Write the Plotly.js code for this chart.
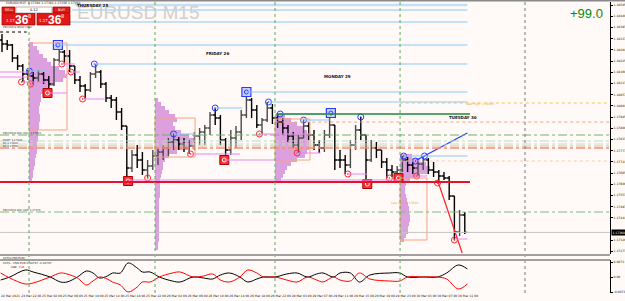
<!DOCTYPE html>
<html><head><meta charset="utf-8">
<script src="https://cdn.plot.ly/plotly-3.0.1.min.js"></script>
<style>html,body{margin:0;padding:0;background:#FFFAF8;}#chart{width:625px;height:301px;}</style>
</head><body><div id="chart"></div>
<script>
// ---------------- DATA ----------------
const symbolName = "EURUSD";
const timeframe = "M15";
const profitText = "+99.0";
const bidPrice = 1.17368;
const firstOpen = 1.18330;
const barStep = 4; // bars are sampled every 4 M15 bars
const high = [1.18360,1.18330,1.18310,1.18255,1.18210,1.18180,1.18170,1.18180,1.18170,1.18150,
1.18240,1.18305,1.18280,1.18280,1.18200,1.18150,1.18110,1.18170,1.18210,1.18180,
1.18120,1.18055,1.18045,1.17990,1.17900,1.17780,1.17805,1.17770,1.17730,1.17780,
1.17790,1.17805,1.17840,1.17860,1.17845,1.17840,1.17830,1.17870,1.17890,1.17905,
1.17970,1.17990,1.17955,1.17840,1.17880,1.17900,1.17980,1.18070,1.18040,1.18005,
1.17940,1.18020,1.18010,1.17960,1.17940,1.17905,1.17870,1.17855,1.17930,1.17920,
1.17880,1.17830,1.17880,1.17965,1.17905,1.17780,1.17755,1.17830,1.17905,1.17945,
1.17855,1.17830,1.17820,1.17780,1.17740,1.17705,1.17700,1.17750,1.17745,1.17730,
1.17725,1.17750,1.17740,1.17720,1.17680,1.17670,1.17650,1.17550,1.17480,1.17470];
const low = [1.18270,1.18280,1.18220,1.18180,1.18120,1.18130,1.18110,1.18120,1.18110,1.18065,
1.18100,1.18220,1.18210,1.18170,1.18110,1.18070,1.18035,1.18070,1.18140,1.18090,
1.18020,1.17990,1.17930,1.17880,1.17625,1.17670,1.17690,1.17655,1.17640,1.17680,
1.17705,1.17730,1.17750,1.17780,1.17780,1.17770,1.17760,1.17780,1.17805,1.17805,
1.17855,1.17905,1.17805,1.17730,1.17755,1.17790,1.17830,1.17940,1.17940,1.17890,
1.17860,1.17920,1.17910,1.17890,1.17855,1.17820,1.17790,1.17765,1.17840,1.17830,
1.17780,1.17765,1.17770,1.17840,1.17680,1.17690,1.17660,1.17690,1.17780,1.17830,
1.17610,1.17720,1.17740,1.17690,1.17640,1.17645,1.17640,1.17670,1.17670,1.17660,
1.17650,1.17680,1.17660,1.17645,1.17615,1.17630,1.17530,1.17330,1.17350,1.17360];
const close = [1.18310,1.18305,1.18240,1.18200,1.18160,1.18150,1.18140,1.18160,1.18130,1.18110,
1.18230,1.18270,1.18250,1.18200,1.18130,1.18100,1.18080,1.18160,1.18170,1.18110,
1.18040,1.18030,1.17970,1.17900,1.17690,1.17755,1.17730,1.17680,1.17700,1.17750,
1.17770,1.17790,1.17820,1.17830,1.17810,1.17790,1.17800,1.17850,1.17870,1.17890,
1.17955,1.17940,1.17830,1.17780,1.17840,1.17870,1.17955,1.18030,1.17980,1.17905,
1.17930,1.17990,1.17940,1.17920,1.17890,1.17850,1.17805,1.17840,1.17900,1.17855,
1.17805,1.17790,1.17855,1.17905,1.17730,1.17730,1.17705,1.17805,1.17880,1.17855,
1.17730,1.17790,1.17780,1.17720,1.17680,1.17670,1.17680,1.17730,1.17705,1.17690,
1.17710,1.17730,1.17680,1.17670,1.17650,1.17640,1.17550,1.17370,1.17455,1.17368];

const timeLabelIdx = [0,16,32,48,64,80,96,112,128,144,160,176,192,208,224,240,256,272,288,304,320,336,352];
const timeLabels = ["24 Mar 2021","24 Mar 22:00","25 Mar 02:00","25 Mar 06:00","25 Mar 10:00","25 Mar 14:00","25 Mar 18:00","25 Mar 22:00","26 Mar 02:00","26 Mar 06:00","26 Mar 10:00","26 Mar 14:00","26 Mar 18:00","26 Mar 22:00","29 Mar 03:00","29 Mar 07:00","29 Mar 11:00","29 Mar 15:00","29 Mar 19:00","29 Mar 23:00","30 Mar 03:00","30 Mar 07:00","30 Mar 11:00"];
const priceTicks = [1.18505,1.18449,1.18393,1.18337,1.18281,1.18225,1.18169,1.18113,1.18057,1.18001,1.17945,1.17889,1.17833,1.17777,1.17721,1.17665,1.17609,1.17553,1.17497,1.17441,1.17329,1.17273];
const ccfTicks = [0.006, 0, -0.006];
const ccfTickText = ["0.0073", "0.00", "-0.0073"];

const dayStartIdx = [20.8, 117.7, 210, 306.2];
const dayNames = ["THURSDAY 25", "FRIDAY 26", "MONDAY 29", "TUESDAY 30"];
const shiftIdx = 402.3;

// volume profiles
const prof1Price = [1.18310,1.18290,1.18270,1.18250,1.18230,1.18210,1.18190,1.18170,1.18150,1.18130,1.18110,1.18090,1.18070,1.18050,1.18030,1.18010,1.17990,1.17970,1.17950,1.17930,1.17910,1.17890,1.17870,1.17850,1.17830,1.17810,1.17790,1.17770,1.17750,1.17730,1.17710,1.17690,1.17670,1.17650,1.17630];
const prof1Vol = [4,8,10,14,18,22,30,36,38,34,26,20,14,12,12,11,10,10,11,11,10,10,9,9,9,8,8,8,7,6,6,5,4,4,3];
const prof2Price = [1.18030,1.18010,1.17990,1.17970,1.17950,1.17930,1.17910,1.17890,1.17870,1.17850,1.17830,1.17810,1.17790,1.17770,1.17750,1.17730,1.17710,1.17690,1.17670,1.17650,1.17630,1.17610,1.17590,1.17570,1.17550,1.17530,1.17510,1.17490,1.17470,1.17450,1.17430,1.17410,1.17390,1.17370,1.17350,1.17330,1.17310,1.17290];
const prof2Vol = [3,6,10,14,20,22,18,20,26,34,40,38,34,22,14,10,8,8,7,6,5,5,5,5,5,4,4,4,4,4,4,4,4,4,4,4,3,3];
const prof3Price = [1.17950,1.17930,1.17910,1.17890,1.17870,1.17850,1.17830,1.17810,1.17790,1.17770,1.17750,1.17730,1.17710,1.17690,1.17670,1.17650,1.17630];
const prof3Vol = [10,16,22,28,32,34,34,34,34,32,30,22,16,12,10,8,6];
const prof4Price = [1.17750,1.17730,1.17710,1.17690,1.17670,1.17650,1.17630,1.17610,1.17590,1.17570,1.17550,1.17530,1.17510,1.17490,1.17470,1.17450,1.17430,1.17410,1.17390,1.17370,1.17350,1.17330];
const prof4Vol = [12,20,26,30,28,20,10,6,5,5,6,7,8,9,9,10,10,9,8,8,6,4];

// value-area boxes
const vaFrom = [20.8, 117.7, 210, 306.2];
const vaTo = [50, 148.5, 236.9, 326.9];
const vaHigh = [1.18315, 1.17940, 1.17935, 1.17640];
const vaLow = [1.17880, 1.17745, 1.17730, 1.17330];

// swing-high levels (blue)
const resistPrice = [1.18505,1.18480,1.18420,1.18305,1.18210,1.18175,1.17860,1.17990,1.18070,1.18020,1.17960,1.17930,1.17750];
const resistFrom = [56,54,49,43,71,21,132,164,188,205,214,232,309];
const resistTo = [358,358,358,358,358,33,149,185,358,358,253,252,358];
// swing-low levels (violet)
const supportPrice = [1.18170,1.18145,1.18120,1.18065,1.18210,1.18170,1.18035,1.17760,1.17730,1.17860,1.17765,1.17630,1.17660,1.17650,1.17335];
const supportFrom = [-1.5,-1.5,15,35,46,53,62,145,171,198,227,97,266,319,348];
const supportTo = [20,22,35,50,56,60,79,183,210,237,245,306,281,327,358];
// key levels
const keyPrice = [1.18015,1.17920,1.17855,1.17825,1.17810,1.17800,1.17790,1.17725,1.17470];
const keyFrom = [306,211,-1.5,-1.5,-1.5,-1.5,-1.5,306,-1.5];
const keyTo = [467.7,467.7,467.7,467.7,467.7,467.7,467.7,467.7,467.7];
const dayLowLevel = 1.17620;
const greenLevel = 1.17960, greenFrom = 211;
const weekHigh = 1.18370;
const lastHighText = "Last High: 1.18015";
const lastLowText = "Last Low: 1.17640";

// pivots
const blueCircleIdx = [21,71,132,164,205,214,232,276,309,318,325];
const blueCirclePrice = [1.18175,1.18210,1.17860,1.17990,1.18020,1.17960,1.17930,1.17945,1.17750,1.17725,1.17750];
const blueBoxIdx = [43,188,253];
const blueBoxPrice = [1.18305,1.18070,1.17965];
const redCircleIdx = [15,22,46,53,62,112,145,198,227,266,298,319,335,348];
const redCirclePrice = [1.18120,1.18110,1.18210,1.18170,1.18035,1.17640,1.17760,1.17860,1.17765,1.17660,1.17640,1.17650,1.17615,1.17330];
const redBoxIdx = [35,97,171,281,305];
const redBoxPrice = [1.18065,1.17625,1.17730,1.17610,1.17640];

// trend lines
const blueTrendIdx = [319, 358];
const blueTrendPrice = [1.17730, 1.17865];
const redTrendIdx = [335, 354];
const redTrendPrice = [1.17630, 1.17265];

// CCFp indicator
const ccfIdx = [-1,6,18,24,37,45,50,58,65,70,75,81,85,91,97,104,108,114,121,131,137,147,155,162,168,175,183,189,196,201,210,219,227,235,242,247,255,260,268,275,283,298,306,312,324,335,342,351,358];
const usdVal = [-0.0012,0,0.0028,0.002,0,-0.002,-0.002,0,0.0024,0.0016,-0.0004,0.0004,0.0016,0.0016,0.0056,0.0036,0.002,0.002,0,-0.0016,-0.002,0,-0.0004,-0.0008,0.0008,0.0016,0,-0.002,-0.0008,0,0,0.0012,0.0016,0,0.0012,0.0016,0,0.0016,0.0016,-0.002,0.0008,0.0016,0.0016,0,0,0,0.0016,0.0048,0.0032];
const eurVal = [0.0016,-0.0004,-0.0028,-0.0024,0,0.0016,0.0012,-0.0004,-0.0032,-0.0016,0,-0.0008,-0.002,-0.0032,-0.006,-0.004,-0.002,-0.002,0,0.0016,0.002,0,0.0004,0.0012,-0.0012,-0.002,0,0.0028,0.0016,0,0,-0.0012,-0.002,0,-0.0012,-0.002,0,-0.0012,-0.0016,0.0016,-0.0008,-0.0016,-0.0016,0,0,0,-0.0008,-0.0048,-0.0028];

// ---------------- BUILD ----------------
const BG = '#FFFAF8';
const TINY = 'DejaVu Sans';
const W = 610, TOPY = 2, BOTY = 293;
const PX = x => x / W;
const PY = y => (BOTY - y) / (BOTY - TOPY);
const barIdx = close.map((_, i) => i * barStep);
const open = close.map((_, i) => i === 0 ? firstOpen : close[i - 1]);
const VOL_SCALE = 1 / 1.3;

const traces = [];
const profColor = '#DCA0DE';
[[prof1Price, prof1Vol], [prof2Price, prof2Vol], [prof3Price, prof3Vol], [prof4Price, prof4Vol]].forEach((p, k) => {
  traces.push({type: 'bar', orientation: 'h', y: p[0], x: p[1].map(v => v * VOL_SCALE), base: dayStartIdx[k],
    width: 0.0002, marker: {color: profColor, line: {width: 0}}, xaxis: 'x', yaxis: 'y', hoverinfo: 'skip'});
});
traces.push({type: 'ohlc', x: barIdx, open: open, high: high, low: low, close: close,
  increasing: {line: {color: '#4a4a4a', width: 1.4}},
  decreasing: {line: {color: '#000000', width: 1.4}},
  tickwidth: 0.48, xaxis: 'x', yaxis: 'y', hoverinfo: 'skip'});
traces.push({type: 'scatter', mode: 'lines', x: blueTrendIdx, y: blueTrendPrice, line: {color: '#1f3cff', width: 1.2}, xaxis: 'x', yaxis: 'y'});
traces.push({type: 'scatter', mode: 'lines', x: redTrendIdx, y: redTrendPrice, line: {color: '#ff2020', width: 1.2}, xaxis: 'x', yaxis: 'y'});
traces.push({type: 'scatter', mode: 'markers', x: blueCircleIdx, y: blueCirclePrice, marker: {symbol: 'circle-open-dot', size: 6, color: '#2a3cff', line: {width: 1}}, xaxis: 'x', yaxis: 'y'});
traces.push({type: 'scatter', mode: 'markers', x: redCircleIdx, y: redCirclePrice, marker: {symbol: 'circle-open-dot', size: 6, color: '#ff2a2a', line: {width: 1}}, xaxis: 'x', yaxis: 'y'});
traces.push({type: 'scatter', mode: 'markers', x: blueBoxIdx, y: blueBoxPrice, marker: {symbol: 'square', size: 9, color: '#c8d0ff', line: {width: 1.2, color: '#2a3cff'}}, xaxis: 'x', yaxis: 'y'});
traces.push({type: 'scatter', mode: 'markers', x: blueBoxIdx, y: blueBoxPrice, marker: {symbol: 'circle-open', size: 4, color: '#2a3cff', line: {width: 1}}, xaxis: 'x', yaxis: 'y'});
traces.push({type: 'scatter', mode: 'markers', x: redBoxIdx, y: redBoxPrice, marker: {symbol: 'square', size: 9, color: '#ff3030', line: {width: 1, color: '#b00000'}}, xaxis: 'x', yaxis: 'y'});
traces.push({type: 'scatter', mode: 'markers', x: redBoxIdx, y: redBoxPrice, marker: {symbol: 'circle-open', size: 4, color: '#ffffff', line: {width: 1}}, xaxis: 'x', yaxis: 'y'});
traces.push({type: 'scatter', mode: 'lines', x: ccfIdx, y: usdVal, line: {color: '#000000', width: 1, shape: 'spline', smoothing: 1}, xaxis: 'x', yaxis: 'y2'});
traces.push({type: 'scatter', mode: 'lines', x: ccfIdx, y: eurVal, line: {color: '#ff0000', width: 1, shape: 'spline', smoothing: 1}, xaxis: 'x', yaxis: 'y2'});

const shapes = [];
function hline(p, a, b, color, width, dash) {
  shapes.push({type: 'line', xref: 'x', yref: 'y', x0: a, x1: b, y0: p, y1: p, line: {color: color, width: width, dash: dash || 'solid'}});
}
vaFrom.forEach((a, i) => shapes.push({type: 'rect', xref: 'x', yref: 'y', x0: a, x1: vaTo[i], y0: vaLow[i], y1: vaHigh[i], line: {color: '#F5A27E', width: 1}, fillcolor: 'rgba(0,0,0,0)'}));
const keyColor = ['#FFC04D', '#F5A080', '#6DB36D', '#B7DDB7', '#BFE0BF', '#F7B098', '#F48E70', '#F9C8B6', '#7DBB7D'];
const keyDash = ['dot', 'dot', 'dashdot', 'dashdot', 'dashdot', 'dashdot', 'dashdot', 'dot', 'dashdot'];
const keyWidth = [1, 1, 1, 1, 1, 1, 1.4, 1, 1];
keyPrice.forEach((p, i) => hline(p, keyFrom[i], keyTo[i], keyColor[i], keyWidth[i], keyDash[i]));
resistPrice.forEach((p, i) => hline(p, resistFrom[i], resistTo[i], i === 0 ? '#C4E0F6' : '#8CC8F4', i === 0 ? 2.5 : 1));
hline(greenLevel, greenFrom, 360, '#1E8A3C', 1.6);
supportPrice.forEach((p, i) => hline(p, supportFrom[i], supportTo[i], '#EE82EE', 1));
hline(dayLowLevel, -1.5, 360, '#E8102A', 2);
hline(weekHigh, -1.5, 19, '#000000', 1, 'dot');
hline(bidPrice, -1.5, 467.7, '#C4C4C4', 1);
dayStartIdx.forEach(d => shapes.push({type: 'line', xref: 'x', yref: 'paper', x0: d, x1: d, y0: 0, y1: 1, line: {color: '#5EA85E', width: 1, dash: 'dot'}}));
shapes.push({type: 'line', xref: 'x', yref: 'paper', x0: shiftIdx, x1: shiftIdx, y0: 0, y1: 1, line: {color: '#7a7a7a', width: 1, dash: 'dot'}});
shapes.push({type: 'line', xref: 'paper', yref: 'paper', x0: 0, x1: 1, y0: PY(255), y1: PY(255), line: {color: '#A0A0A0', width: 2}});
shapes.push({type: 'line', xref: 'paper', yref: 'paper', x0: 0, x1: 1, y0: PY(260), y1: PY(260), line: {color: '#A0A0A0', width: 2}});
shapes.push({type: 'line', xref: 'paper', yref: 'paper', x0: 0, x1: 625 / W, y0: PY(0.7), y1: PY(0.7), line: {color: '#8a8a8a', width: 1.5}});
function prect(x0, y0, x1, y1, fill, lc) {
  shapes.push({type: 'rect', xref: 'paper', yref: 'paper', x0: PX(x0), x1: PX(x1), y0: PY(y1), y1: PY(y0), fillcolor: fill, line: {color: lc, width: 0.7}});
}
prect(2, 7, 15, 13, '#E01818', '#A00000');
prect(16, 7, 52, 13, '#FFFFFF', '#9a9a9a');
prect(53, 7, 70, 13, '#E01818', '#A00000');
prect(2, 13.5, 35, 25, '#E01818', '#A00000');
prect(37, 13.5, 70, 25, '#E01818', '#A00000');

const ann = [];
function txt(t, x, y, size, color, extra) {
  ann.push(Object.assign({text: t, x: PX(x), y: PY(y), xref: 'paper', yref: 'paper', showarrow: false,
    font: {family: TINY, size: size, color: color}, xanchor: 'center', yanchor: 'middle', borderpad: 0}, extra || {}));
}
txt(symbolName + ' ' + timeframe, 138, 13, 19, '#CFCFCF', {font: {family: 'Liberation Sans', size: 19, color: '#CFCFCF'}});
txt(profitText, 586, 14, 13, '#0A8A0A', {font: {family: 'Liberation Sans', size: 13, color: '#0A8A0A'}});
const dayPos = [[92, 6], [217, 53], [337, 76], [463, 117]];
dayNames.forEach((d, i) => txt('<b>' + d + '</b>', dayPos[i][0], dayPos[i][1], 4, '#111'));
txt(lastHighText, 480, 104, 3, '#F0A030');
txt(lastLowText, 404, 203, 3, '#F0A030');
txt('EURUSD,M15  1.17364 1.17381 1.17356 1.17368', 5, 3, 3, '#222', {xanchor: 'left'});
txt('PREVIOUS WEEK HIGH', 2, 27, 2.6, '#333', {xanchor: 'left'});
txt('PREVIOUS DAY HIGH 1.17855', 2, 133, 2.6, '#333', {xanchor: 'left'});
txt('PIVOT 1.17825', 2, 140, 2.6, '#333', {xanchor: 'left'});
txt('R1 1.17810', 2, 143, 2.6, '#333', {xanchor: 'left'});
txt('R2 1.17790', 2, 146.5, 2.6, '#333', {xanchor: 'left'});
txt('PREVIOUS DAY LOW 1.17470', 2, 210, 2.6, '#333', {xanchor: 'left'});
txt('CCFp(USD,EUR)', 2, 257.5, 2.8, '#222', {xanchor: 'left'});
txt('CCFp - USD EUR 0.00737 -0.00737', 2, 263, 2.8, '#222', {xanchor: 'left'});
txt('USD', 14, 267, 2.6, '#000');
txt('EUR', 22, 267, 2.6, '#f00');
txt('SELL', 8.5, 10, 3.5, '#fff');
txt('BUY', 61.5, 10, 3.5, '#fff');
txt('0.12', 34, 10, 3.5, '#000');
txt('1.17', 10, 21, 4, '#fff');
txt('<b>36</b>', 22, 19.5, 12, '#fff', {font: {family: 'Liberation Sans', size: 12, color: '#fff'}});
txt('8', 29.5, 16, 5, '#fff');
txt('1.17', 43, 21, 4, '#fff');
txt('<b>36</b>', 55, 19.5, 12, '#fff', {font: {family: 'Liberation Sans', size: 12, color: '#fff'}});
txt('8', 62.5, 16, 5, '#fff');
ann.push({text: bidPrice.toFixed(5), x: 1, xref: 'paper', xanchor: 'left', y: bidPrice, yref: 'y', yanchor: 'middle', showarrow: false,
  bgcolor: '#000', font: {family: TINY, size: 3, color: '#fff'}, borderpad: 0.5, xshift: 1});

const layout = {
  width: 625, height: 301,
  margin: {l: 0, r: 15, t: TOPY, b: 301 - BOTY},
  paper_bgcolor: BG, plot_bgcolor: BG,
  showlegend: false, barmode: 'overlay',
  xaxis: {range: [-1.54, 467.7], anchor: 'y2', showgrid: false, zeroline: false, showline: false,
    tickvals: timeLabelIdx.map(v => v + 6.5), ticktext: timeLabels, ticks: '', tickangle: 0,
    tickfont: {family: TINY, size: 3, color: '#111'}, rangeslider: {visible: false}},
  yaxis: {domain: [(BOTY - 254) / (BOTY - TOPY), 1], range: [1.17260, 1.18520], side: 'right', showgrid: false, zeroline: false,
    showline: true, linecolor: '#000', linewidth: 1, ticks: 'outside', ticklen: 2, tickcolor: '#000',
    tickvals: priceTicks, ticktext: priceTicks.map(v => v.toFixed(5)), tickfont: {family: TINY, size: 3, color: '#111'}},
  yaxis2: {domain: [0, (BOTY - 260) / (BOTY - TOPY)], range: [-0.0064, 0.0068], side: 'right', showgrid: false, zeroline: false,
    showline: true, linecolor: '#000', linewidth: 1, ticks: 'outside', ticklen: 2, tickcolor: '#000',
    tickvals: ccfTicks, ticktext: ccfTickText, tickfont: {family: TINY, size: 3, color: '#111'}},
  shapes: shapes, annotations: ann
};
Plotly.newPlot('chart', traces, layout, {staticPlot: true, displayModeBar: false});
</script></body></html>
